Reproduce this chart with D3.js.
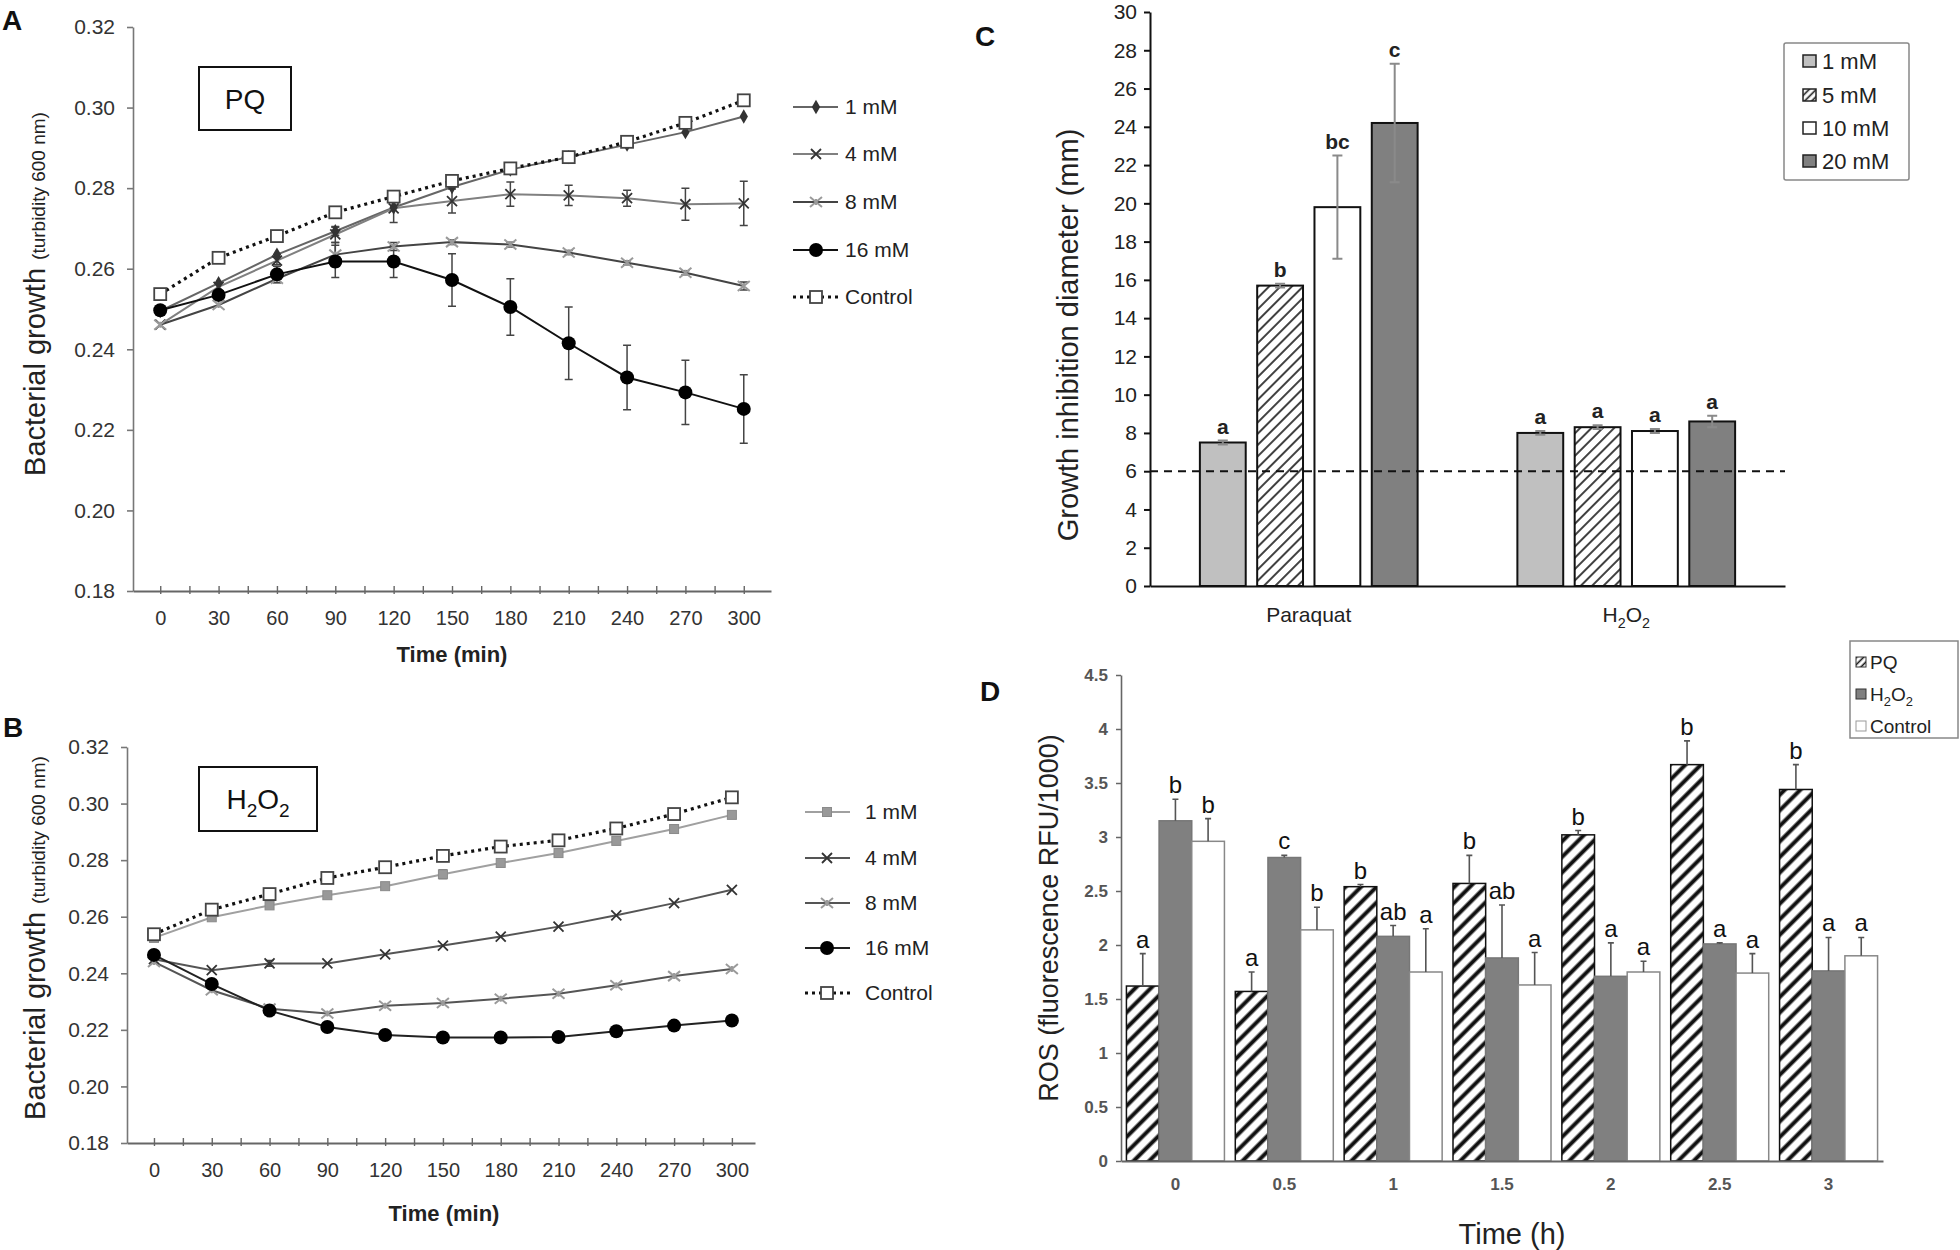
<!DOCTYPE html>
<html><head><meta charset="utf-8">
<script src="https://cdn.jsdelivr.net/npm/d3@7"></script>
<style>body{margin:0;background:#fff;} svg{display:block;font-family:"Liberation Sans",Arial,sans-serif;}</style>
</head><body>
<svg id="fig" width="1960" height="1250"></svg>
<script>
// ---------------- DATA ----------------
const timesMin = [0,30,60,90,120,150,180,210,240,270,300];
const minorTimeTicks = [0,15,30,45,60,75,90,105,120,135,150,165,180,195,210,225,240,255,270,285,300];
const growthTicks = [0.18,0.20,0.22,0.24,0.26,0.28,0.30,0.32];
const lineLegendLabels = ["1 mM","4 mM","8 mM","16 mM","Control"];

// Panel A (PQ)
const pq1mM   = [0.2495,0.2564,0.2635,0.2693,0.2752,0.2803,0.2846,0.2877,0.2908,0.2939,0.2978];
const pq4mM   = [0.2461,0.2555,0.2620,0.2685,0.2750,0.2768,0.2785,0.2782,0.2775,0.2760,0.2762];
const pq8mM   = [0.2461,0.2510,0.2575,0.2635,0.2655,0.2666,0.2660,0.2640,0.2615,0.2590,0.2557];
const pq16mM  = [0.2497,0.2535,0.2586,0.2618,0.2618,0.2572,0.2505,0.2415,0.2330,0.2293,0.2252];
const pqCtrl  = [0.2537,0.2627,0.2681,0.2740,0.2779,0.2818,0.2849,0.2877,0.2915,0.2962,0.3018];
const pq1mMErr  = [0,0,0,0.001,0,0,0,0,0,0,0];
const pq4mMErr  = [0,0,0.001,0.002,0.0035,0.003,0.003,0.0025,0.002,0.004,0.0055];
const pq8mMErr  = [0,0,0.001,0.003,0.001,0.0006,0.0006,0.0005,0.0005,0.0005,0.001];
const pq16mMErr = [0,0,0.002,0.004,0.004,0.0065,0.007,0.009,0.008,0.008,0.0085];

// Panel B (H2O2)
const hp1mM  = [0.2525,0.2598,0.2640,0.2676,0.2708,0.2750,0.2790,0.2825,0.2868,0.2910,0.2960];
const hp4mM  = [0.2450,0.2411,0.2435,0.2435,0.2467,0.2498,0.2530,0.2565,0.2605,0.2648,0.2695];
const hp8mM  = [0.2440,0.2340,0.2275,0.2258,0.2285,0.2295,0.2310,0.2328,0.2358,0.2390,0.2415];
const hp16mM = [0.2465,0.2362,0.2268,0.2210,0.2182,0.2173,0.2173,0.2175,0.2195,0.2215,0.2233];
const hpCtrl = [0.2538,0.2625,0.2680,0.2737,0.2775,0.2815,0.2848,0.2870,0.2912,0.2963,0.3022];
const hp1mMErr  = [0,0,0,0,0,0.0015,0.001,0,0,0,0];
const hp4mMErr  = [0,0,0.001,0,0,0,0,0,0,0,0];
const hp8mMErr  = [0,0,0,0,0,0,0,0,0,0,0];
const hp16mMErr = [0,0,0,0.0012,0.0012,0.0015,0.0015,0.0013,0.0012,0.0012,0.0012];

// Panel C
const cGroups = ["Paraquat","H2O2"];
const cConc = ["1 mM","5 mM","10 mM","20 mM"];
const cParaquat = [7.5,15.7,19.8,24.2];
const cH2O2 = [8.0,8.3,8.1,8.6];
const cParaquatErr = [0.1,0.1,2.7,3.1];
const cH2O2Err = [0.1,0.1,0.1,0.3];
const cParaquatLetters = ["a","b","bc","c"];
const cH2O2Letters = ["a","a","a","a"];
const cTicks = [0,2,4,6,8,10,12,14,16,18,20,22,24,26,28,30];
const cThreshold = 6;

// Panel D
const dTimes = ["0","0.5","1","1.5","2","2.5","3"];
const dSeries = ["PQ","H2O2","Control"];
const dPQ   = [1.62,1.57,2.54,2.57,3.02,3.67,3.44];
const dH2O2 = [3.15,2.81,2.08,1.88,1.71,2.01,1.76];
const dCtrl = [2.96,2.14,1.75,1.63,1.75,1.74,1.90];
const dPQErr   = [0.30,0.18,0.02,0.26,0.04,0.22,0.23];
const dH2O2Err = [0.20,0.02,0.10,0.49,0.31,0.01,0.31];
const dCtrlErr = [0.21,0.21,0.40,0.30,0.10,0.18,0.17];
const dPQLetters   = ["a","a","b","b","b","b","b"];
const dH2O2Letters = ["b","c","ab","ab","a","a","a"];
const dCtrlLetters = ["b","b","a","a","a","a","a"];
const dTicks = [0,0.5,1,1.5,2,2.5,3,3.5,4,4.5];

// ---------------- DRAW ----------------
const svg = d3.select("#fig");
const defs = svg.append("defs");
function hatch(id, size, sw){
  const p = defs.append("pattern").attr("id",id).attr("patternUnits","userSpaceOnUse")
    .attr("width",size).attr("height",size).attr("patternTransform","rotate(45)");
  p.append("rect").attr("width",size).attr("height",size).attr("fill","#fff");
  p.append("line").attr("x1",size/2).attr("x2",size/2).attr("y1",0).attr("y2",size)
    .attr("stroke","#111").attr("stroke-width",sw);
}
hatch("hatchC", 8, 1.6);
hatch("hatchD", 11, 4);
hatch("hatchDs", 5, 1.6);

function subText(sel, parts, size){
  let shifted = false;
  parts.forEach(([t, sub]) => {
    const ts = sel.append("tspan").text(t);
    if (sub && !shifted){ ts.attr("font-size", size*0.68).attr("dy", size*0.28); shifted = true; }
    else if (!sub && shifted){ ts.attr("dy", -size*0.28); shifted = false; }
    else if (sub) ts.attr("font-size", size*0.68);
  });
}
const H2O2parts = [["H",false],["2",true],["O",false],["2",true]];

function panelLabel(t, x, y){
  svg.append("text").attr("x",x).attr("y",y).attr("text-anchor","middle")
    .attr("font-size",28).attr("font-weight","bold").attr("fill","#111").text(t);
}

function drawMarker(g, type, cx, cy){
  const t = `translate(${cx},${cy})`;
  if (type==="diamond") g.append("path").attr("d", d3.symbol(d3.symbolDiamond, 60)()).attr("transform",t).attr("fill","#333");
  else if (type==="xdark") g.append("path").attr("d","M-5,-5L5,5M-5,5L5,-5").attr("transform",t).attr("stroke","#333").attr("stroke-width",1.8).attr("fill","none");
  else if (type==="xlight") g.append("path").attr("d","M-6,-5L6,5M-6,5L6,-5M0,-3L0,3").attr("transform",t).attr("stroke","#9a9a9a").attr("stroke-width",2).attr("fill","none");
  else if (type==="circle") g.append("circle").attr("cx",cx).attr("cy",cy).attr("r",7).attr("fill","#000");
  else if (type==="square") g.append("rect").attr("x",cx-6).attr("y",cy-6).attr("width",12).attr("height",12).attr("fill","#fff").attr("stroke","#444").attr("stroke-width",1.8);
  else if (type==="graysq") g.append("rect").attr("x",cx-4.5).attr("y",cy-4.5).attr("width",9).attr("height",9).attr("fill","#999").attr("stroke","#8a8a8a");
}

function drawLinePanel(o){
  const g = svg.append("g");
  const x = d3.scaleLinear().domain(o.xDomain).range(o.xRange);
  const y = d3.scaleLinear().domain([0.18,0.32]).range(o.yRange);
  const ya = g.append("g").attr("transform",`translate(${o.xRange[0]},0)`)
    .call(d3.axisLeft(y).tickValues(growthTicks).tickFormat(d3.format(".2f")).tickSize(6).tickSizeOuter(0).tickPadding(12));
  ya.select(".domain").attr("stroke","#777").attr("stroke-width",1.6);
  ya.selectAll(".tick line").attr("stroke","#777").attr("stroke-width",1.6);
  ya.selectAll(".tick text").attr("font-size",21).attr("fill","#333").attr("font-family","Liberation Sans, Arial, sans-serif");
  const xa = g.append("g").attr("transform",`translate(0,${o.yRange[0]})`)
    .call(d3.axisBottom(x).tickValues(minorTimeTicks).tickFormat(d => d%30===0 ? d : "").tickSize(3).tickSizeOuter(0).tickPadding(17));
  xa.select(".domain").attr("stroke","#666").attr("stroke-width",1.8);
  xa.selectAll(".tick line").attr("y1",-5).attr("stroke","#666").attr("stroke-width",1.4);
  xa.selectAll(".tick text").attr("font-size",20).attr("fill","#333").attr("font-family","Liberation Sans Narrow, Liberation Sans, Arial, sans-serif");

  const line = d3.line().x((d,i)=>x(timesMin[i])).y(d=>y(d));
  o.series.forEach(s => {
    g.append("path").datum(s.values).attr("d",line).attr("fill","none")
      .attr("stroke",s.stroke).attr("stroke-width",s.width).attr("stroke-dasharray",s.dash||null);
  });
  o.series.forEach(s => {
    if (!s.errors) return;
    s.errors.forEach((e,i) => {
      if (!e) return;
      const cx = x(timesMin[i]), y1 = y(s.values[i]+e), y2 = y(s.values[i]-e);
      g.append("path").attr("d",`M${cx},${y1}V${y2}M${cx-4},${y1}H${cx+4}M${cx-4},${y2}H${cx+4}`)
        .attr("stroke","#444").attr("stroke-width",1.5).attr("fill","none");
    });
  });
  o.series.forEach(s => {
    s.values.forEach((v,i) => drawMarker(g, s.marker, x(timesMin[i]), y(v)));
  });
  o.series.forEach((s,i) => {
    const ly = o.legendRows[i];
    g.append("line").attr("x1",o.legendLine[0]).attr("x2",o.legendLine[1]).attr("y1",ly).attr("y2",ly)
      .attr("stroke",s.stroke).attr("stroke-width",s.width).attr("stroke-dasharray",s.dash||null);
    drawMarker(g, s.marker, o.legendMarkerX, ly);
    g.append("text").attr("x",o.legendText).attr("y",ly+7).attr("font-size",21).attr("fill","#222").text(lineLegendLabels[i]);
  });
  g.append("rect").attr("x",o.box[0]).attr("y",o.box[1]).attr("width",o.box[2]).attr("height",o.box[3])
    .attr("fill","#fff").attr("stroke","#111").attr("stroke-width",2);
  const bt = g.append("text").attr("x",o.box[0]+o.box[2]/2).attr("y",o.box[1]+o.box[3]/2+10)
    .attr("text-anchor","middle").attr("font-size",28).attr("fill","#111");
  subText(bt, o.boxParts, 28);
  g.append("text").attr("x",o.xTitle[0]).attr("y",o.xTitle[1]).attr("text-anchor","middle")
    .attr("font-size",22).attr("font-weight","bold").attr("fill","#222").text("Time (min)");
  const yt = g.append("text").attr("transform",`translate(${o.yTitle[0]},${o.yTitle[1]}) rotate(-90)`)
    .attr("text-anchor","middle").attr("fill","#222");
  yt.append("tspan").attr("font-size",29).text("Bacterial growth ");
  yt.append("tspan").attr("font-size",19).text("(turbidity 600 nm)");
}

drawLinePanel({
  xDomain:[-14,314], xRange:[133,771], yRange:[591,27],
  series:[
    {values:pq1mM, errors:pq1mMErr, stroke:"#666", width:2, marker:"diamond"},
    {values:pq4mM, errors:pq4mMErr, stroke:"#808080", width:2, marker:"xdark"},
    {values:pq8mM, errors:pq8mMErr, stroke:"#444", width:2, marker:"xlight"},
    {values:pq16mM, errors:pq16mMErr, stroke:"#111", width:2, marker:"circle"},
    {values:pqCtrl, errors:null, stroke:"#111", width:3.2, dash:"3,4", marker:"square"}
  ],
  legendRows:[107,154,202,250,297], legendLine:[793,838], legendMarkerX:816, legendText:845,
  box:[199,67,92,63], boxParts:[["PQ",false]],
  xTitle:[452,662], yTitle:[45,294]
});
drawLinePanel({
  xDomain:[-14,312], xRange:[127,755], yRange:[1143,747],
  series:[
    {values:hp1mM, errors:hp1mMErr, stroke:"#a0a0a0", width:2, marker:"graysq"},
    {values:hp4mM, errors:hp4mMErr, stroke:"#555", width:2, marker:"xdark"},
    {values:hp8mM, errors:hp8mMErr, stroke:"#555", width:2, marker:"xlight"},
    {values:hp16mM, errors:hp16mMErr, stroke:"#222", width:2, marker:"circle"},
    {values:hpCtrl, errors:null, stroke:"#111", width:3.2, dash:"3,4", marker:"square"}
  ],
  legendRows:[812,858,903,948,993], legendLine:[805,850], legendMarkerX:827, legendText:865,
  box:[199,767,118,64], boxParts:H2O2parts,
  xTitle:[444,1221], yTitle:[45,938]
});
panelLabel("A",12,30);
panelLabel("B",13,737);

// ---------- Panel C ----------
(function(){
  const g = svg.append("g");
  const y = d3.scaleLinear().domain([0,30]).range([586,12]);
  const x = d3.scaleBand().domain(cGroups).range([1150,1785]);
  const xi = d3.scaleBand().domain(cConc).range([-114.6,114.6]).paddingInner(0.2).paddingOuter(0.1);
  const fills = ["#c0c0c0","url(#hatchC)","#ffffff","#808080"];
  const vals = [cParaquat, cH2O2], errs = [cParaquatErr, cH2O2Err], lets = [cParaquatLetters, cH2O2Letters];
  cGroups.forEach((grp, gi) => {
    const cx = x(grp) + x.bandwidth()/2;
    cConc.forEach((c, ci) => {
      const bx = cx + xi(c), v = vals[gi][ci], e = errs[gi][ci];
      g.append("rect").attr("x",bx).attr("y",y(v)).attr("width",xi.bandwidth()).attr("height",y(0)-y(v))
        .attr("fill",fills[ci]).attr("stroke","#111").attr("stroke-width",2);
      const mx = bx + xi.bandwidth()/2;
      g.append("path").attr("d",`M${mx},${y(v+e)}V${y(v-e)}M${mx-5},${y(v+e)}H${mx+5}M${mx-5},${y(v-e)}H${mx+5}`)
        .attr("stroke","#8a8a8a").attr("stroke-width",2).attr("fill","none");
      g.append("text").attr("x",mx).attr("y",y(v+e)-7).attr("text-anchor","middle").attr("font-size",21)
        .attr("font-weight","bold").attr("fill","#222").text(lets[gi][ci]);
    });
  });
  g.append("line").attr("x1",1150).attr("x2",1785).attr("y1",y(cThreshold)).attr("y2",y(cThreshold))
    .attr("stroke","#111").attr("stroke-width",2).attr("stroke-dasharray","8,6");
  const ya = g.append("g").attr("transform","translate(1150,0)")
    .call(d3.axisLeft(y).tickValues(cTicks).tickSize(6).tickSizeOuter(0).tickPadding(7));
  ya.select(".domain").attr("stroke","#111").attr("stroke-width",2);
  ya.selectAll(".tick line").attr("stroke","#111").attr("stroke-width",2);
  ya.selectAll(".tick text").attr("font-size",21).attr("fill","#222").attr("font-family","Liberation Sans, Arial, sans-serif");
  const xa = g.append("g").attr("transform","translate(0,586)")
    .call(d3.axisBottom(x).tickSize(0).tickSizeOuter(0).tickPadding(14).tickFormat(""));
  xa.select(".domain").attr("stroke","#111").attr("stroke-width",2);
  cGroups.forEach((grp, gi) => {
    const t = g.append("text").attr("x",x(grp)+x.bandwidth()/2).attr("y",622).attr("text-anchor","middle")
      .attr("font-size",21).attr("fill","#222");
    if (gi===1) subText(t, H2O2parts, 21); else t.text(grp);
  });
  g.append("text").attr("transform","translate(1078,335) rotate(-90)").attr("text-anchor","middle")
    .attr("font-size",29).attr("fill","#222").text("Growth inhibition diameter (mm)");
  g.append("rect").attr("x",1784).attr("y",43).attr("width",125).attr("height",137).attr("fill","#fff")
    .attr("stroke","#888").attr("stroke-width",1.5).attr("rx",2);
  const rows = [61,95,128,161];
  cConc.forEach((c,i) => {
    g.append("rect").attr("x",1803).attr("y",rows[i]-6).attr("width",13).attr("height",12)
      .attr("fill", i===1 ? "url(#hatchDs)" : fills[i]).attr("stroke","#222").attr("stroke-width",1.5);
    g.append("text").attr("x",1822).attr("y",rows[i]+8).attr("font-size",22).attr("fill","#222").text(c);
  });
})();
panelLabel("C",985,46);

// ---------- Panel D ----------
(function(){
  const g = svg.append("g");
  const y = d3.scaleLinear().domain([0,4.5]).range([1161,675]);
  const x = d3.scaleBand().domain(dTimes).range([1121,1883]);
  const xi = d3.scaleBand().domain(dSeries).range([-49,49]);
  const vals = [dPQ, dH2O2, dCtrl], errs = [dPQErr, dH2O2Err, dCtrlErr], lets = [dPQLetters, dH2O2Letters, dCtrlLetters];
  const fills = ["url(#hatchD)","#808080","#ffffff"];
  const strokes = ["#111","#777","#888"];
  dTimes.forEach((t, ti) => {
    const cx = x(t) + x.bandwidth()/2;
    dSeries.forEach((s, si) => {
      const bx = cx + xi(s), v = vals[si][ti], e = errs[si][ti];
      g.append("rect").attr("x",bx).attr("y",y(v)).attr("width",xi.bandwidth()).attr("height",y(0)-y(v))
        .attr("fill",fills[si]).attr("stroke",strokes[si]).attr("stroke-width",1.5);
      const mx = bx + xi.bandwidth()/2;
      g.append("path").attr("d",`M${mx},${y(v)}V${y(v+e)}M${mx-3},${y(v+e)}H${mx+3}`)
        .attr("stroke","#555").attr("stroke-width",1.6).attr("fill","none");
      g.append("text").attr("x",mx).attr("y",y(v+e)-6).attr("text-anchor","middle").attr("font-size",24)
        .attr("fill","#111").text(lets[si][ti]);
    });
  });
  const ya = g.append("g").attr("transform","translate(1121,0)")
    .call(d3.axisLeft(y).tickValues(dTicks).tickFormat(d => String(d)).tickSize(5).tickSizeOuter(0).tickPadding(8));
  ya.select(".domain").attr("stroke","#666").attr("stroke-width",1.6);
  ya.selectAll(".tick line").attr("stroke","#666").attr("stroke-width",1.5);
  ya.selectAll(".tick text").attr("font-size",17).attr("font-weight","bold").attr("fill","#555").attr("font-family","Liberation Sans, Arial, sans-serif");
  const xa = g.append("g").attr("transform","translate(0,1161)")
    .call(d3.axisBottom(x).tickSize(0).tickSizeOuter(0).tickPadding(17));
  xa.select(".domain").attr("stroke","#666").attr("stroke-width",1.8);
  xa.selectAll(".tick text").attr("font-size",17).attr("font-weight","bold").attr("fill","#555").attr("font-family","Liberation Sans, Arial, sans-serif");
  g.append("text").attr("x",1512).attr("y",1244).attr("text-anchor","middle").attr("font-size",29).attr("fill","#222").text("Time (h)");
  g.append("text").attr("transform","translate(1058,918) rotate(-90)").attr("text-anchor","middle")
    .attr("font-size",27).attr("fill","#222").text("ROS (fluorescence RFU/1000)");
  g.append("rect").attr("x",1850).attr("y",641).attr("width",108).attr("height",97).attr("fill","#fff")
    .attr("stroke","#888").attr("stroke-width",1.5);
  const rows = [662,694,726];
  const lf = ["url(#hatchDs)","#808080","#ffffff"];
  dSeries.forEach((s,i) => {
    g.append("rect").attr("x",1856).attr("y",rows[i]-5).attr("width",10).attr("height",10)
      .attr("fill",lf[i]).attr("stroke",i===2?"#999":"#333").attr("stroke-width",1);
    const t = g.append("text").attr("x",1870).attr("y",rows[i]+7).attr("font-size",19).attr("fill","#222");
    if (s==="H2O2") subText(t, H2O2parts, 19); else t.text(s);
  });
})();
panelLabel("D",990,701);
</script>
</body></html>
